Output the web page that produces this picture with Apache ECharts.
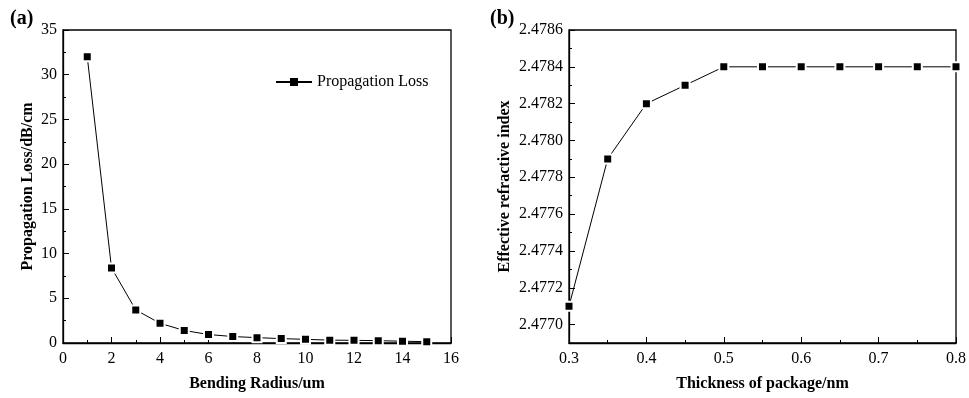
<!DOCTYPE html>
<html>
<head>
<meta charset="utf-8">
<script src="https://cdn.jsdelivr.net/npm/echarts@6/dist/echarts.min.js"></script>
<style>
  html, body { margin: 0; padding: 0; background: #fff; }
  #chart { width: 969px; height: 398px; }
</style>
</head>
<body>
<div id="chart"></div>
<script>
// Panel (a): propagation loss vs bending radius
var bendRadius = [1, 2, 3, 4, 5, 6, 7, 8, 9, 10, 11, 12, 13, 14, 15];
var propagationLoss = [32.0, 8.4, 3.7, 2.2, 1.4, 0.95, 0.72, 0.6, 0.49, 0.41, 0.32, 0.3, 0.26, 0.2, 0.15];

// Panel (b): effective refractive index vs package thickness
var packageThickness = [0.3, 0.35, 0.4, 0.45, 0.5, 0.55, 0.6, 0.65, 0.7, 0.75, 0.8];
var effectiveIndex = [2.4771, 2.4779, 2.4782, 2.4783, 2.4784, 2.4784, 2.4784, 2.4784, 2.4784, 2.4784, 2.4784];

// Tick positions for the index axis
var indexMajorTicks = [2.4770, 2.4772, 2.4774, 2.4776, 2.4778, 2.4780, 2.4782, 2.4784, 2.4786];
var indexMinorTicks = [2.4771, 2.4773, 2.4775, 2.4777, 2.4779, 2.4781, 2.4783, 2.4785];

var FONT = '"Liberation Serif", "Times New Roman", serif';

function pairs(xs, ys) {
  return xs.map(function (x, i) { return [x, ys[i]]; });
}

var labelStyle = { color: '#000', fontFamily: FONT, fontSize: 16 };
var nameStyle = { color: '#000', fontFamily: FONT, fontSize: 16, fontWeight: 'bold' };
var lineAxis = { show: true, onZero: false, lineStyle: { color: '#000', width: 1.3 } };
var majorTick = { show: true, inside: true, length: 6, lineStyle: { color: '#000', width: 1 } };

var chart = echarts.init(document.getElementById('chart'), null, { renderer: 'canvas' });

chart.setOption({
  animation: false,
  backgroundColor: '#fff',
  title: [
    { text: '(a)', left: 5, top: 4, textStyle: { fontFamily: FONT, fontSize: 20, fontWeight: 'bold', color: '#000' } },
    { text: '(b)', left: 485, top: 4, textStyle: { fontFamily: FONT, fontSize: 20, fontWeight: 'bold', color: '#000' } }
  ],
  legend: {
    left: 270, top: 69,
    itemWidth: 36, itemHeight: 10, itemGap: 6,
    itemStyle: { borderWidth: 0 },
    textStyle: { fontFamily: FONT, fontSize: 16, color: '#000' },
    data: ['Propagation Loss']
  },
  grid: [
    { left: 63, top: 30, width: 388, height: 313, show: true, borderColor: '#000', borderWidth: 1.3, backgroundColor: 'transparent' },
    { left: 569, top: 30, width: 387, height: 313, show: true, borderColor: '#000', borderWidth: 1.3, backgroundColor: 'transparent' }
  ],
  xAxis: [
    {
      gridIndex: 0, type: 'value', min: 0, max: 16, interval: 2,
      name: 'Bending Radius/um', nameLocation: 'middle', nameGap: 33, nameTextStyle: nameStyle,
      axisLine: lineAxis, axisTick: majorTick,
      minorTick: { show: true, splitNumber: 2, length: 3, lineStyle: { color: '#000' } },
      axisLabel: Object.assign({ margin: 8 }, labelStyle),
      splitLine: { show: false }
    },
    {
      gridIndex: 1, type: 'value', min: 0.3, max: 0.8, interval: 0.1,
      name: 'Thickness of package/nm', nameLocation: 'middle', nameGap: 33, nameTextStyle: nameStyle,
      axisLine: lineAxis, axisTick: majorTick,
      minorTick: { show: true, splitNumber: 2, length: 3, lineStyle: { color: '#000' } },
      axisLabel: Object.assign({ margin: 8, formatter: function (v) { return (+v).toFixed(1); } }, labelStyle),
      splitLine: { show: false }
    }
  ],
  yAxis: [
    {
      gridIndex: 0, type: 'value', min: 0, max: 35, interval: 5,
      name: 'Propagation Loss/dB/cm', nameLocation: 'middle', nameGap: 27, nameTextStyle: nameStyle,
      axisLine: lineAxis, axisTick: majorTick,
      minorTick: { show: true, splitNumber: 2, length: 3, lineStyle: { color: '#000' } },
      axisLabel: Object.assign({ margin: 6 }, labelStyle),
      splitLine: { show: false }
    },
    {
      gridIndex: 1, type: 'value', min: 2.4769, max: 2.4786, position: 'left',
      name: 'Effective refractive index', nameLocation: 'middle', nameGap: 56, nameTextStyle: nameStyle,
      axisLine: lineAxis,
      axisTick: Object.assign({ customValues: indexMajorTicks }, majorTick),
      axisLabel: Object.assign({ margin: 6, customValues: indexMajorTicks, formatter: function (v) { return (+v).toFixed(4); } }, labelStyle),
      splitLine: { show: false }
    },
    {
      // minor ticks for the index axis
      gridIndex: 1, type: 'value', min: 2.4769, max: 2.4786, position: 'left', offset: 0,
      axisLine: { show: false },
      axisTick: { show: true, inside: true, length: 3, customValues: indexMinorTicks, lineStyle: { color: '#000', width: 1 } },
      axisLabel: { show: false },
      splitLine: { show: false }
    }
  ],
  series: [
    {
      name: 'Propagation Loss', type: 'line', xAxisIndex: 0, yAxisIndex: 0,
      data: pairs(bendRadius, propagationLoss),
      symbol: 'rect', symbolSize: 9, showSymbol: true,
      lineStyle: { color: '#000', width: 1 },
      itemStyle: { color: '#000', borderColor: '#fff', borderWidth: 2 },
      clip: false
    },
    {
      name: 'Effective Index', type: 'line', xAxisIndex: 1, yAxisIndex: 1,
      data: pairs(packageThickness, effectiveIndex),
      symbol: 'rect', symbolSize: 9, showSymbol: true,
      lineStyle: { color: '#000', width: 1 },
      itemStyle: { color: '#000', borderColor: '#fff', borderWidth: 2 },
      clip: false
    }
  ]
});
</script>
</body>
</html>
